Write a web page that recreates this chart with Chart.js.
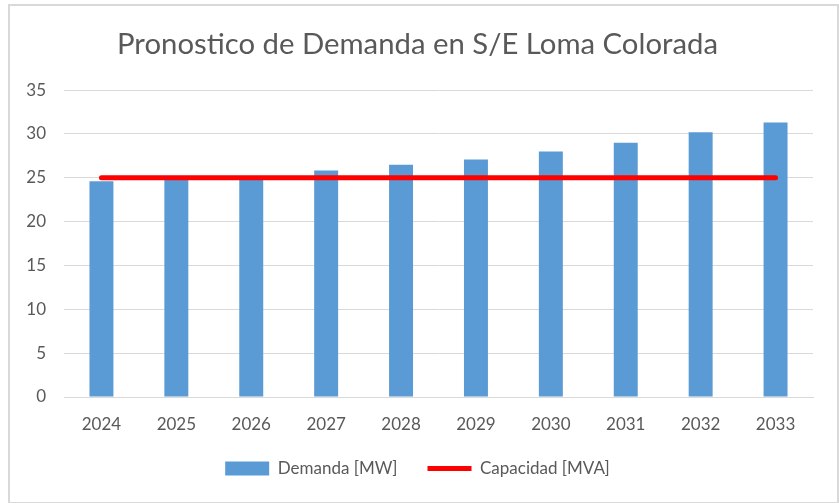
<!DOCTYPE html>
<html>
<head>
<meta charset="utf-8">
<script src="https://cdn.jsdelivr.net/npm/chart.js@4"></script>
<style>
  body { margin: 0; background: #fff; }
  #wrap { position: relative; width: 839px; height: 503px; }
  #frame { position: absolute; left: 8px; top: 4px; width: 827px; height: 496px;
           border: 2px solid #d9d9d9; pointer-events: none; }
</style>
</head>
<body>
<div id="wrap">
  <canvas id="myChart" width="839" height="503"></canvas>
  <div id="frame"></div>
</div>
<script>
var years = ["2024", "2025", "2026", "2027", "2028", "2029", "2030", "2031", "2032", "2033"];
var demanda = [24.6, 25.0, 25.1, 25.85, 26.5, 27.1, 28.0, 29.0, 30.2, 31.3];
var capacidad = [25, 25, 25, 25, 25, 25, 25, 25, 25, 25];
var yTicks = [0, 5, 10, 15, 20, 25, 30, 35];

var grey = "#595959";
var fontName = "Lato";

new Chart("myChart", {
  type: "bar",
  data: {
    labels: years,
    datasets: [{
      type: "bar",
      label: "Demanda [MW]",
      data: demanda,
      backgroundColor: "#5b9bd5",
      borderWidth: 0,
      barPercentage: 0.32,
      categoryPercentage: 1,
      pointStyle: "rect",
      order: 1
    }, {
      type: "line",
      label: "Capacidad [MVA]",
      data: capacidad,
      borderColor: "#ff0000",
      backgroundColor: "#ff0000",
      borderWidth: 5,
      borderCapStyle: "round",
      pointRadius: 0,
      pointStyle: "line",
      order: 0
    }]
  },
  options: {
    responsive: false,
    animation: false,
    layout: {padding: {top: 12, right: 26, bottom: 16, left: 22}},
    plugins: {
      title: {
        display: true,
        text: "Pronostico de Demanda en S/E Loma Colorada",
        color: grey,
        font: {family: fontName, size: 29.3, weight: "normal"},
        padding: {top: 15, bottom: 28}
      },
      legend: {
        position: "bottom",
        labels: {
          usePointStyle: true,
          pointStyleWidth: 44,
          boxHeight: 14,
          padding: 30,
          color: grey,
          font: {family: fontName, size: 17},
          sort: function (a, b) { return a.datasetIndex - b.datasetIndex; }
        }
      },
      tooltip: {enabled: false}
    },
    scales: {
      x: {
        afterFit: function (scale) { scale.height = 33; },
        grid: {display: false, drawTicks: false},
        border: {display: true, color: "#d9d9d9", width: 1},
        ticks: {color: grey, font: {family: fontName, size: 17}, padding: 17}
      },
      y: {
        min: 0,
        max: 35,
        afterBuildTicks: function (scale) {
          scale.ticks = yTicks.map(function (v) { return {value: v}; });
        },
        afterFit: function (scale) { scale.width = 42; },
        grid: {color: "#d9d9d9", drawTicks: false},
        border: {display: false},
        ticks: {color: grey, font: {family: fontName, size: 17}, padding: 18}
      }
    }
  }
});
</script>
</body>
</html>
